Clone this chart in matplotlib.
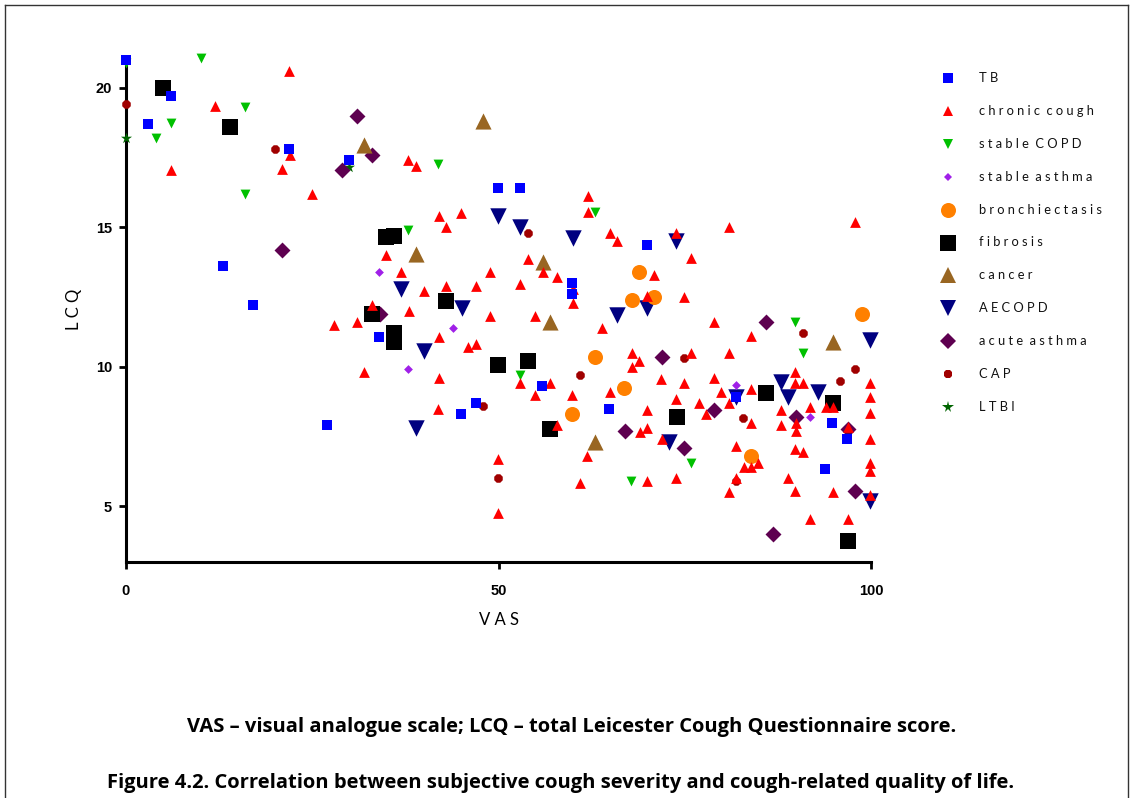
import matplotlib.pyplot as plt
from matplotlib.lines import Line2D

# VAS (x) and LCQ (y) per diagnosis group
tb_vas = [0, 3.0, 6.0, 21.9, 29.9, 13.0, 17.0, 27.0, 34.0, 49.9, 52.9, 59.9, 59.9, 69.9,
          55.8, 45.0, 47.0, 64.8, 81.9, 94.8, 96.8, 93.8]
tb_lcq = [21.0, 18.7, 19.7, 17.8, 17.4, 13.6, 12.2, 7.9, 11.05, 16.4, 16.4, 13.0, 12.6, 14.35,
          9.3, 8.3, 8.7, 8.5, 8.9, 8.0, 7.4, 6.35]

cc_vas = [21.9, 11.9, 6.0, 20.9, 22.0, 25.0, 37.9, 38.9, 42.0, 45.0, 43.0, 34.9, 36.9, 40.0,
          43.0, 47.0, 33.0, 38.0, 27.9, 31.0, 42.0, 45.9, 47.0, 31.9, 42.0, 62.0, 62.0, 65.0,
          65.9, 73.8, 54.0, 56.0, 57.9, 48.9, 52.9, 60.0, 60.0, 70.9, 69.9, 48.9, 54.9, 63.9,
          67.9, 68.9, 67.9, 71.8, 52.9, 56.9, 80.9, 97.9, 75.8, 74.9, 78.9, 83.9, 75.8, 80.9,
          74.9, 78.9, 89.8, 89.8, 90.9, 99.9, 83.9, 73.8, 76.9, 79.9, 80.9, 77.9, 69.9, 87.9,
          91.8, 94.0, 94.9, 89.9, 89.9, 87.9, 83.9, 99.9, 99.9, 99.9, 96.9, 69.0, 69.9, 71.9,
          81.9, 89.8, 90.9, 82.9, 83.9, 84.8, 81.9, 69.9, 73.8, 88.9, 89.8, 80.9, 94.9, 91.8,
          96.9, 99.9, 99.9, 99.9, 54.9, 59.9, 65.0, 41.9, 57.9, 61.9, 60.9, 49.9, 49.9]
cc_lcq = [20.6, 19.35, 17.05, 17.1, 17.6, 16.2, 17.4, 17.2, 15.4, 15.5, 15.0, 14.0, 13.4, 12.7,
          12.9, 12.9, 12.2, 12.0, 11.5, 11.6, 11.05, 10.7, 10.8, 9.8, 9.6, 16.1, 15.55, 14.8,
          14.5, 14.8, 13.85, 13.4, 13.2, 13.4, 12.95, 12.8, 12.3, 13.3, 12.55, 11.8, 11.8, 11.4,
          10.5, 10.2, 10.0, 9.55, 9.4, 9.4, 15.0, 15.2, 13.9, 12.5, 11.6, 11.1, 10.5, 10.5,
          9.4, 9.6, 9.8, 9.4, 9.4, 9.4, 9.2, 8.85, 8.7, 9.1, 8.7, 8.3, 8.45, 8.45,
          8.55, 8.55, 8.55, 8.0, 7.7, 7.9, 8.0, 8.9, 8.35, 7.4, 7.85, 7.65, 7.8, 7.4,
          7.15, 7.05, 6.95, 6.4, 6.4, 6.55, 6.0, 5.9, 6.0, 6.0, 5.55, 5.5, 5.5, 4.55,
          4.55, 6.55, 6.25, 5.4, 9.0, 9.0, 9.1, 8.5, 7.9, 6.8, 5.85, 6.7, 4.75]

scopd_vas = [0, 10.1, 16.0, 6.0, 4.0, 16.0, 41.9, 37.9, 63.0, 52.9, 67.8, 75.8, 89.8, 90.9]
scopd_lcq = [20.9, 21.05, 19.3, 18.75, 18.2, 16.2, 17.25, 14.9, 15.55, 9.7, 5.9, 6.55, 11.6, 10.5]

sasthma_vas = [34.0, 43.9, 37.9, 81.9, 91.8]
sasthma_lcq = [13.4, 11.4, 9.9, 9.35, 8.2]

bronch_vas = [68.9, 67.9, 70.9, 63.0, 66.8, 59.9, 83.9, 98.8]
bronch_lcq = [13.4, 12.4, 12.5, 10.35, 9.25, 8.3, 6.8, 11.9]

fib_vas = [5.0, 14.0, 34.9, 36.0, 43.0, 33.0, 36.0, 36.0, 49.9, 54.0, 56.9, 74.0, 85.9, 94.9, 96.9]
fib_lcq = [20.0, 18.6, 14.65, 14.7, 12.35, 11.9, 11.2, 10.9, 10.05, 10.2, 7.75, 8.2, 9.05, 8.7, 3.75]

cancer_vas = [31.9, 47.9, 38.9, 56.0, 56.9, 62.9, 94.9]
cancer_lcq = [17.95, 18.8, 14.05, 13.75, 11.6, 7.3, 10.9]

aecopd_vas = [49.9, 52.9, 60.0, 73.8, 45.1, 65.9, 69.9, 36.9, 40.0, 38.9, 72.9, 81.9, 88.9,
              87.9, 92.9, 99.9, 99.9]
aecopd_lcq = [15.4, 15.0, 14.6, 14.5, 12.1, 11.85, 12.1, 12.8, 10.55, 7.8, 7.3, 8.9, 8.9,
              9.45, 9.1, 5.2, 10.95]

aasthma_vas = [31.0, 33.0, 29.0, 20.9, 34.1, 71.9, 85.9, 67.0, 78.9, 74.9, 89.9, 96.9, 97.9, 86.8]
aasthma_lcq = [19.0, 17.6, 17.05, 14.2, 11.9, 10.35, 11.6, 7.7, 8.45, 7.1, 8.2, 7.75, 5.55, 4.0]

cap_vas = [0, 20.0, 54.0, 60.9, 47.9, 49.9, 90.9, 74.9, 95.8, 97.9, 82.8, 81.9]
cap_lcq = [19.4, 17.8, 14.8, 9.7, 8.6, 6.0, 11.2, 10.3, 9.5, 9.9, 8.15, 5.9]

ltbi_vas = [0, 29.9]
ltbi_lcq = [18.2, 17.15]

groups = ['TB', 'chronic cough', 'stable COPD', 'stable asthma', 'bronchiectasis',
          'fibrosis', 'cancer', 'AECOPD', 'acute asthma', 'CAP', 'LTBI']
series = [(tb_vas, tb_lcq), (cc_vas, cc_lcq), (scopd_vas, scopd_lcq),
          (sasthma_vas, sasthma_lcq), (bronch_vas, bronch_lcq), (fib_vas, fib_lcq),
          (cancer_vas, cancer_lcq), (aecopd_vas, aecopd_lcq), (aasthma_vas, aasthma_lcq),
          (cap_vas, cap_lcq), (ltbi_vas, ltbi_lcq)]

# marker, size (pt^2), colour
styles = [('s', 52, '#0000ff'), ('^', 60, '#ff0000'), ('v', 50, '#00c000'),
          ('D', 20, '#a020e8'), ('o', 117, '#ff8000'), ('s', 135, '#000000'),
          ('^', 135, '#996622'), ('v', 140, '#000080'), ('D', 66, '#5e0050'),
          ('8', 44, '#a00000'), ('*', 70, '#006400')]

fig = plt.figure(figsize=(11.33, 7.98), dpi=100)
ax = fig.add_axes([0.1112, 0.2957, 0.6576, 0.6329])

# first group is drawn on top
n = len(groups)
for i, (name, (xs, ys), (mk, sz, col)) in enumerate(zip(groups, series, styles)):
    ax.scatter(xs, ys, marker=mk, s=sz, color=col, linewidths=0, zorder=10 + n - i,
               clip_on=False)

ax.set_xlim(0, 100)
ax.set_ylim(3, 21.1)
ax.set_xticks([0, 50, 100])
ax.set_yticks([5, 10, 15, 20])
for s in ['top', 'right']:
    ax.spines[s].set_visible(False)
for s in ['left', 'bottom']:
    ax.spines[s].set_linewidth(2.2)
ax.tick_params(width=2.0, length=5, labelsize=10.5, pad=5)
ax.tick_params(axis='x', pad=11)
for lab in ax.get_xticklabels() + ax.get_yticklabels():
    lab.set_fontweight('bold')
    lab.set_family('Liberation Sans')

ax.set_xlabel('V A S', fontsize=12, family='Lato', labelpad=10)
ax.set_ylabel('L C Q', fontsize=12, family='Lato', labelpad=10)


def spaced(text):
    return '  '.join(' '.join(w) for w in text.split(' '))


# legend down the right side
top = 1 - 78 / 798
step = 32.9 / 798
for i, (name, (mk, sz, col)) in enumerate(zip(groups, styles)):
    y = top - i * step
    fig.add_artist(Line2D([948 / 1133], [y], marker=mk, markersize=sz ** 0.5,
                          color=col, markeredgewidth=0, linestyle='none',
                          transform=fig.transFigure))
    fig.text(979 / 1133, y, spaced(name), fontsize=9.3, family='Lato',
             va='center', ha='left', color='#111111')

fig.text(572 / 1133, 1 - 727 / 798,
         'VAS – visual analogue scale; LCQ – total Leicester Cough Questionnaire score.',
         ha='center', va='center', fontsize=14.5, fontweight='bold', family='Open Sans')
fig.text(107 / 1133, 1 - 783 / 798,
         'Figure 4.2. Correlation between subjective cough severity and cough-related quality of life.',
         ha='left', va='center', fontsize=14.5, fontweight='bold', family='Open Sans')

# page frame
for xs, ys in [([0.004, 0.004], [0, 0.994]), ([0.004, 0.9956], [0.994, 0.994]),
               ([0.9956, 0.9956], [0, 0.994])]:
    fig.add_artist(Line2D(xs, ys, color='#333333', lw=1.0, transform=fig.transFigure))

fig.savefig('out.png', dpi=100)
